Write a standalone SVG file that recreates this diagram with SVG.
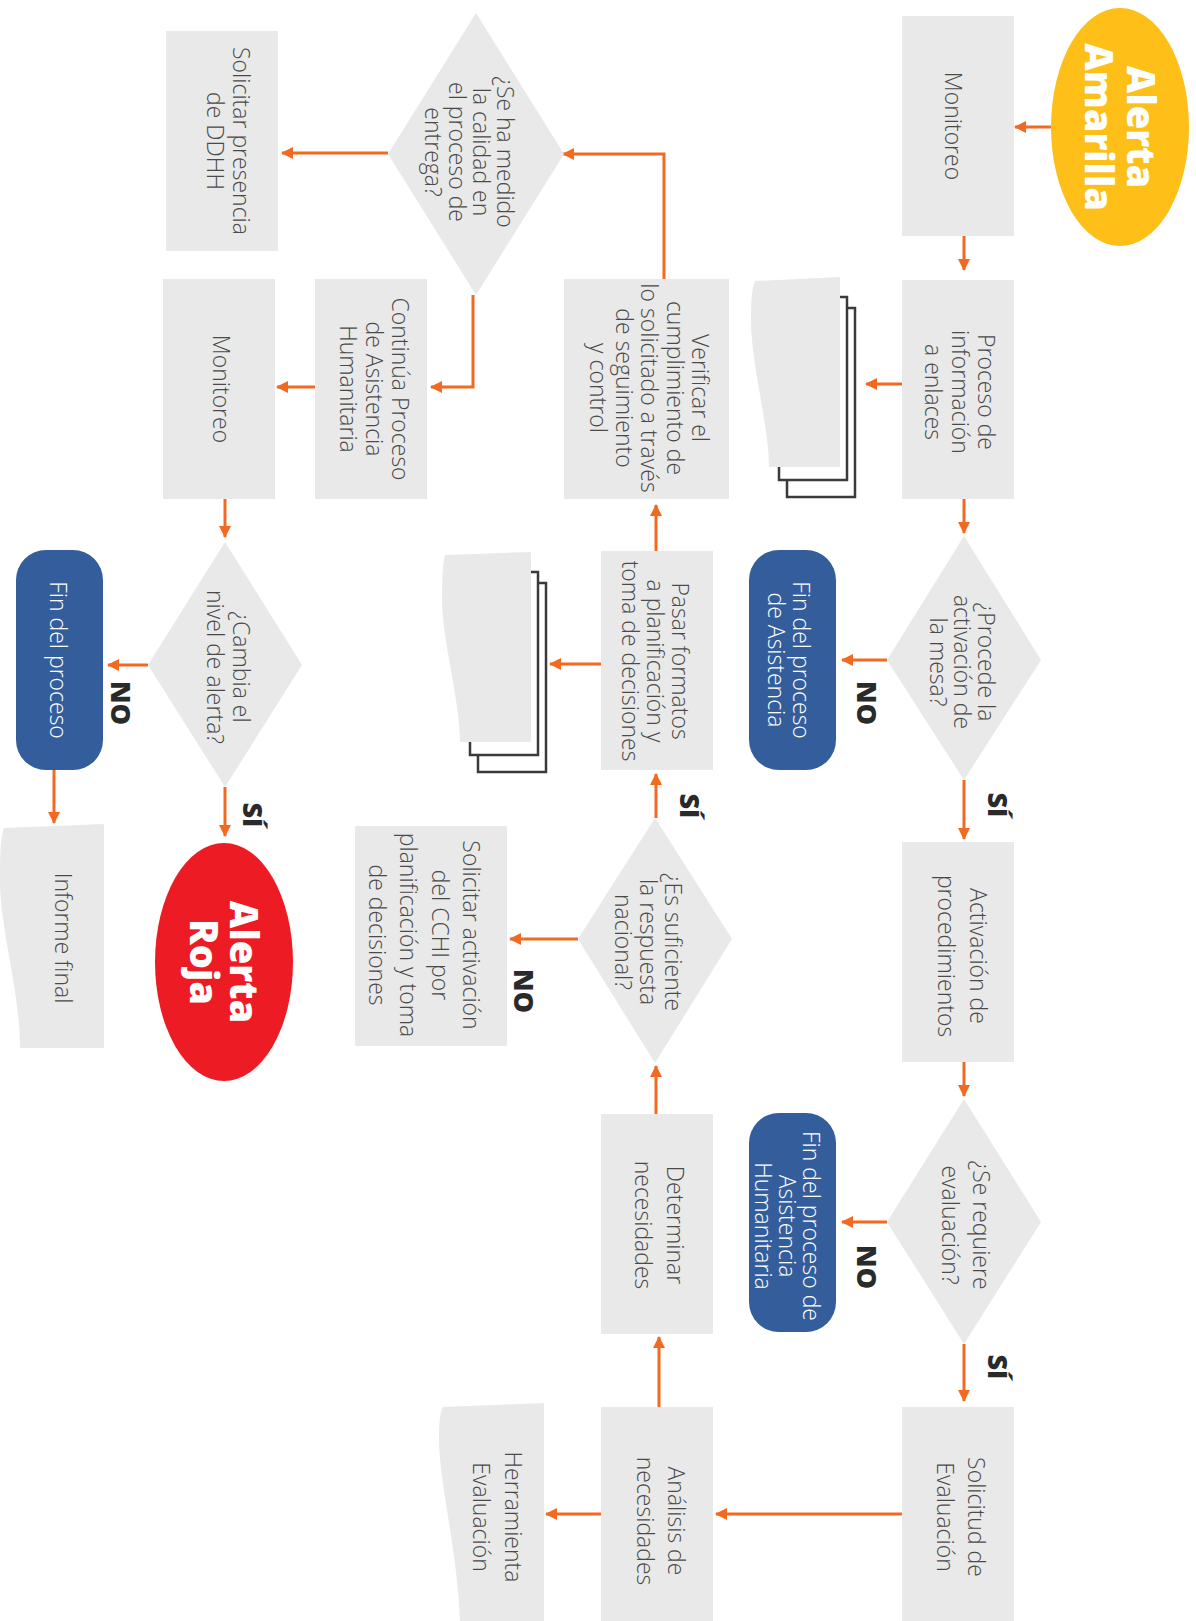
<svg xmlns="http://www.w3.org/2000/svg" width="1196" height="1621" viewBox="0 0 1196 1621">
<style>
.box{fill:#e9e9e9}
.term{fill:#345e9b}
.doc{fill:#e9e9e9}
.sheet{fill:#fff;stroke:#3a3a3a;stroke-width:2.5}
.t{font-family:"Open Sans","Liberation Sans",sans-serif;font-weight:300;font-size:23px;fill:#4a4a4a;text-anchor:middle}
.tw{font-family:"Open Sans","Liberation Sans",sans-serif;font-weight:300;font-size:23px;fill:#ffffff;text-anchor:middle}
.big{font-family:"Open Sans","Liberation Sans",sans-serif;font-weight:800;font-size:38px;fill:#ffffff;text-anchor:middle}
.lbl{font-family:"Open Sans","Liberation Sans",sans-serif;font-weight:800;font-size:27px;fill:#2a2a2a;text-anchor:middle}
.c{fill:none;stroke:#f26a21;stroke-width:3;marker-end:url(#ah)}
</style>
<defs>
<marker id="ah" markerUnits="userSpaceOnUse" markerWidth="12" markerHeight="12" refX="11" refY="6" orient="auto">
<path d="M0,0 L12,6 L0,12 Z" fill="#f26a21"/>
</marker>
</defs>

<g id="connectors">
<path class="c" d="M1051,127 H1015"/>
<path class="c" d="M964,236 V270"/>
<path class="c" d="M902,384 H866"/>
<path class="c" d="M964,499 V533"/>
<path class="c" d="M887,660 H842"/>
<path class="c" d="M964,780 V839"/>
<path class="c" d="M964,1062 V1096"/>
<path class="c" d="M887,1222 H842"/>
<path class="c" d="M964,1344 V1401"/>
<path class="c" d="M902,1514 H716"/>
<path class="c" d="M601,1514 H546"/>
<path class="c" d="M659,1407 V1337"/>
<path class="c" d="M656,1114 V1066"/>
<path class="c" d="M656,818 V774"/>
<path class="c" d="M578,939 H510"/>
<path class="c" d="M601,664 H550"/>
<path class="c" d="M656,551 V505"/>
<path class="c" d="M664,279 V154 H563"/>
<path class="c" d="M388,153 H282"/>
<path class="c" d="M473,295 V387 H431"/>
<path class="c" d="M315,387 H277"/>
<path class="c" d="M225,499 V537"/>
<path class="c" d="M148,665 H108"/>
<path class="c" d="M225,787 V836"/>
<path class="c" d="M54,770 V823"/>
</g>

<g id="labels">
<g transform="translate(867,703) rotate(90)"><text class="lbl" y="10">NO</text></g>
<g transform="translate(998,805) rotate(90)"><text class="lbl" y="10">SÍ</text></g>
<g transform="translate(867,1267) rotate(90)"><text class="lbl" y="10">NO</text></g>
<g transform="translate(998,1367) rotate(90)"><text class="lbl" y="10">SÍ</text></g>
<g transform="translate(690,806) rotate(90)"><text class="lbl" y="10">SÍ</text></g>
<g transform="translate(524,991) rotate(90)"><text class="lbl" y="10">NO</text></g>
<g transform="translate(121,703) rotate(90)"><text class="lbl" y="10">NO</text></g>
<g transform="translate(253,815) rotate(90)"><text class="lbl" y="10">SÍ</text></g>
</g>

<g id="alerta-amarilla">
<ellipse cx="1120" cy="127" rx="69" ry="119" fill="#fdbf18"/>
<g transform="translate(1120,127) rotate(90)"><text class="big"><tspan x="0" y="-7">Alerta</tspan><tspan x="0" y="35">Amarilla</tspan></text></g>
</g>

<g id="monitoreo-1">
<rect class="box" x="902" y="16" width="112" height="220"/>
<g transform="translate(945,126) rotate(90)"><text class="t"><tspan x="0" y="0">Monitoreo</tspan></text></g>
</g>

<g id="proceso-informacion">
<rect class="box" x="902" y="280" width="112" height="219"/>
<g transform="translate(978,392) rotate(90)"><text class="t"><tspan x="0" y="0">Proceso de</tspan><tspan x="0" y="26.5">información</tspan><tspan x="0" y="53">a enlaces</tspan></text></g>
</g>

<g id="doc-stack-1">
<rect class="sheet" x="787" y="308" width="68" height="189"/>
<rect class="sheet" x="779" y="297" width="68" height="183"/>
<path class="doc" d="M755,281 L840,277 L840,467 L769,467 C769,425 751,365 751,320 C751,300 752,288 755,281 Z"/>
</g>

<g id="procede-mesa">
<polygon class="box" points="964,536 1041,660 964,780 887,660"/>
<g transform="translate(978,662) rotate(90)"><text class="t"><tspan x="0" y="0">¿Procede la</tspan><tspan x="0" y="24">activación de</tspan><tspan x="0" y="48">la mesa?</tspan></text></g>
</g>

<g id="fin-asistencia">
<rect class="term" x="749" y="550" width="87" height="220" rx="30"/>
<g transform="translate(793,660) rotate(90)"><text class="tw"><tspan x="0" y="0">Fin del proceso</tspan><tspan x="0" y="25">de Asistencia</tspan></text></g>
</g>

<g id="activacion-procedimientos">
<rect class="box" x="902" y="842" width="112" height="220"/>
<g transform="translate(970,956) rotate(90)"><text class="t"><tspan x="0" y="0">Activación de</tspan><tspan x="0" y="32">procedimientos</tspan></text></g>
</g>

<g id="requiere-evaluacion">
<polygon class="box" points="964,1099 1041,1222 964,1344 887,1222"/>
<g transform="translate(973,1225) rotate(90)"><text class="t"><tspan x="0" y="0">¿Se requiere</tspan><tspan x="0" y="31">evaluación?</tspan></text></g>
</g>

<g id="fin-asistencia-humanitaria">
<rect class="term" x="749" y="1113" width="87" height="219" rx="30"/>
<g transform="translate(803,1226) rotate(90)"><text class="tw"><tspan x="0" y="0">Fin del proceso de</tspan><tspan x="0" y="24">Asistencia</tspan><tspan x="0" y="48">Humanitaria</tspan></text></g>
</g>

<g id="solicitud-evaluacion">
<rect class="box" x="902" y="1407" width="112" height="220"/>
<g transform="translate(968,1517) rotate(90)"><text class="t"><tspan x="0" y="0">Solicitud de</tspan><tspan x="0" y="31">Evaluación</tspan></text></g>
</g>

<g id="analisis-necesidades">
<rect class="box" x="601" y="1407" width="112" height="220"/>
<g transform="translate(668,1521) rotate(90)"><text class="t"><tspan x="0" y="0">Análisis de</tspan><tspan x="0" y="31">necesidades</tspan></text></g>
</g>

<g id="herramienta-evaluacion">
<path class="doc" d="M443,1407 L544,1403 L544,1625 L460,1625 C459,1560 439,1480 439,1440 C439,1422 440,1412 443,1407 Z"/>
<g transform="translate(505,1517) rotate(90)"><text class="t"><tspan x="0" y="0">Herramienta</tspan><tspan x="0" y="32">Evaluación</tspan></text></g>
</g>

<g id="determinar-necesidades">
<rect class="box" x="601" y="1114" width="112" height="220"/>
<g transform="translate(667,1225) rotate(90)"><text class="t"><tspan x="0" y="0">Determinar</tspan><tspan x="0" y="32">necesidades</tspan></text></g>
</g>

<g id="suficiente-respuesta">
<polygon class="box" points="655,818 732,939 655,1063 578,939"/>
<g transform="translate(665,942) rotate(90)"><text class="t"><tspan x="0" y="0">¿Es suficiente</tspan><tspan x="0" y="25">la respuesta</tspan><tspan x="0" y="50">nacional?</tspan></text></g>
</g>

<g id="solicitar-cchi">
<rect class="box" x="355" y="826" width="152" height="220"/>
<g transform="translate(463,935) rotate(90)"><text class="t"><tspan x="0" y="0">Solicitar activación</tspan><tspan x="0" y="31.5">del CCHI por</tspan><tspan x="0" y="63">planificación y toma</tspan><tspan x="0" y="94.5">de decisiones</tspan></text></g>
</g>

<g id="pasar-formatos">
<rect class="box" x="601" y="551" width="112" height="219"/>
<g transform="translate(672,661) rotate(90)"><text class="t"><tspan x="0" y="0">Pasar formatos</tspan><tspan x="0" y="25">a planificación y</tspan><tspan x="0" y="50">toma de decisiones</tspan></text></g>
</g>

<g id="doc-stack-2">
<rect class="sheet" x="478" y="583" width="68" height="189"/>
<rect class="sheet" x="470" y="572" width="68" height="183"/>
<path class="doc" d="M445,555 L531,552 L531,742 L460,742 C460,700 442,640 442,598 C442,578 443,563 445,555 Z"/>
</g>

<g id="verificar-cumplimiento">
<rect class="box" x="564" y="279" width="165" height="220"/>
<g transform="translate(692,388) rotate(90)"><text class="t"><tspan x="0" y="0">Verificar el</tspan><tspan x="0" y="25.5">cumplimiento de</tspan><tspan x="0" y="51">lo solicitado a través</tspan><tspan x="0" y="76.5">de seguimiento</tspan><tspan x="0" y="102">y control</tspan></text></g>
</g>

<g id="calidad-entrega">
<polygon class="box" points="476,13 564,154 476,295 388,154"/>
<g transform="translate(497,152) rotate(90)"><text class="t"><tspan x="0" y="0">¿Se ha medido</tspan><tspan x="0" y="24">la calidad en</tspan><tspan x="0" y="48">el proceso de</tspan><tspan x="0" y="72">entrega?</tspan></text></g>
</g>

<g id="solicitar-ddhh">
<rect class="box" x="166" y="31" width="112" height="220"/>
<g transform="translate(233,141) rotate(90)"><text class="t"><tspan x="0" y="0">Solicitar presencia</tspan><tspan x="0" y="26">de DDHH</tspan></text></g>
</g>

<g id="continua-proceso">
<rect class="box" x="315" y="279" width="112" height="220"/>
<g transform="translate(392,389) rotate(90)"><text class="t"><tspan x="0" y="0">Continúa Proceso</tspan><tspan x="0" y="26">de Asistencia</tspan><tspan x="0" y="52">Humanitaria</tspan></text></g>
</g>

<g id="monitoreo-2">
<rect class="box" x="163" y="279" width="112" height="220"/>
<g transform="translate(213,389) rotate(90)"><text class="t"><tspan x="0" y="0">Monitoreo</tspan></text></g>
</g>

<g id="cambia-alerta">
<polygon class="box" points="225,542 302,665 225,787 148,665"/>
<g transform="translate(233,667) rotate(90)"><text class="t"><tspan x="0" y="0">¿Cambia el</tspan><tspan x="0" y="26">nivel de alerta?</tspan></text></g>
</g>

<g id="fin-proceso">
<rect class="term" x="16" y="550" width="87" height="220" rx="30"/>
<g transform="translate(50,660) rotate(90)"><text class="tw"><tspan x="0" y="0">Fin del proceso</tspan></text></g>
</g>

<g id="alerta-roja">
<ellipse cx="224" cy="962" rx="69" ry="119" fill="#ed1c24"/>
<g transform="translate(224,962) rotate(90)"><text class="big"><tspan x="0" y="-6">Alerta</tspan><tspan x="0" y="34">Roja</tspan></text></g>
</g>

<g id="informe-final">
<path class="doc" d="M4,828 L104,824 L104,1048 L20,1048 C20,990 0,930 0,880 C0,850 1,836 4,828 Z"/>
<g transform="translate(55,938) rotate(90)"><text class="t"><tspan x="0" y="0">Informe final</tspan></text></g>
</g>
</svg>
